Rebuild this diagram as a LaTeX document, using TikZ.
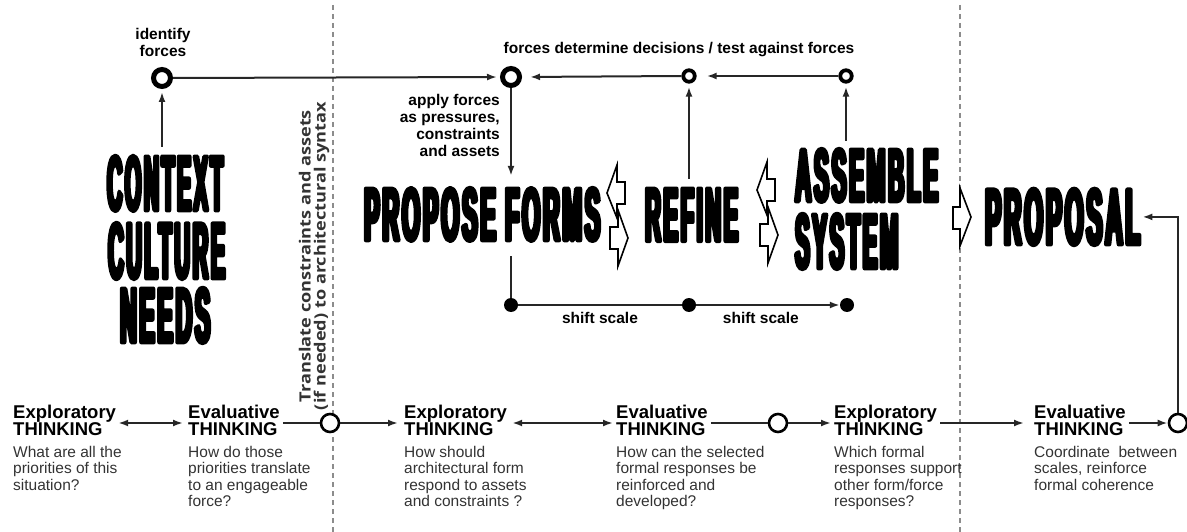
\documentclass[tikz,border=0pt]{standalone}
\usepackage{fontspec}
\setmainfont{Liberation Sans}
% heavy condensed headline face: narrowed, letter-spaced and stroked for weight
\newfontfamily\headfont[FakeStretch=0.36, FakeBold=6, LetterSpace=4.5]{Liberation Sans}
\newfontfamily\notefont{Open Sans}
\usetikzlibrary{arrows.meta}

% headline squeezed into a W x H box
\newcommand\headline[3]{\resizebox{#1pt}{#2pt}{\headfont\bfseries\fontsize{78}{78}\selectfont #3}}

\begin{document}
\begin{tikzpicture}[x=1pt,y=-1pt,
  big/.style={anchor=south west, inner sep=0pt, line join=round},
  lbl/.style={inner sep=0pt, font=\bfseries\fontsize{15.5}{17}\selectfont},
  title/.style={inner sep=0pt, anchor=base west, align=left, font=\bfseries\fontsize{18.5}{17}\selectfont},
  desc/.style={inner sep=0pt, anchor=base west, align=left, text=black!80, font=\fontsize{15.5}{16.5}\selectfont},
  ringbig/.style={circle, draw, line width=5pt, minimum size=17pt, inner sep=0pt, fill=white},
  ringsmall/.style={circle, draw, line width=3.8pt, minimum size=11.5pt, inner sep=0pt, fill=white},
  ring/.style={circle, draw, line width=2.6pt, minimum size=18pt, inner sep=0pt, fill=white},
  dot/.style={circle, fill, minimum size=14pt, inner sep=0pt},
  conn/.style={line width=2pt, draw=black!85},
  arr/.style={conn, -{Latex[length=10pt,width=7pt]}},
  dbl/.style={conn, {Latex[length=10pt,width=7pt]}-{Latex[length=10pt,width=7pt]}},
  sep/.style={draw=black!45, line width=1.3pt, dash pattern=on 5pt off 4pt},
  hollow/.style={draw, line width=1.6pt, fill=white, line join=miter},
  swap/.pic={
    \draw[hollow] (0,0) -- (10,-28) -- (10,-11) -- (18,-11) -- (18,11) -- (10,11) -- (10,25) -- cycle;
    \draw[hollow] (21,45) -- (11,17) -- (11,34) -- (3,34) -- (3,56) -- (11,56) -- (11,73) -- cycle;
  }]
\useasboundingbox (0,0) rectangle (1187,532);

% phase separators
\coordinate (sepAtop) at (333,5);  \coordinate (sepAbot) at (333,532);
\coordinate (sepBtop) at (960,5);  \coordinate (sepBbot) at (960,532);
\draw[sep] (sepAtop) -- (sepAbot);
\draw[sep] (sepBtop) -- (sepBbot);

% headlines
\node[big] (context)  at (107,211) {\headline{116}{54}{CONTEXT}};
\node[big] (culture)  at (108,279) {\headline{117}{55}{CULTURE}};
\node[big] (needs)    at (120,343) {\headline{90}{54}{NEEDS}};
\node[big] (propose)  at (364,241) {\headline{236}{52}{PROPOSE FORMS}};
\node[big] (refine)   at (645,241) {\headline{93}{52}{REFINE}};
\node[big] (assemble) at (795,202) {\headline{143}{52}{ASSEMBLE}};
\node[big] (system)   at (795,269) {\headline{103}{54}{SYSTEM}};
\node[big] (proposal) at (985,245) {\headline{155}{55}{PROPOSAL}};

% hollow transition arrows
\pic at (607,193) {swap};
\pic at (757,190) {swap};
\draw[hollow] (971,217) -- (960,188) -- (960,207) -- (953,207) -- (953,229) -- (960,229) -- (960,246) -- cycle;

% force loop
\node[ringbig]   (c1) at (162,78) {};
\node[ringbig]   (c2) at (511,77) {};
\node[ringsmall] (c3) at (689,76) {};
\node[ringsmall] (c4) at (846,76) {};
\node[lbl, align=center, anchor=south] (identify) at (163,57) {identify\\forces};
\node[lbl, anchor=base] (determine) at (679,54) {forces determine decisions / test against forces};
\node[lbl, align=right, anchor=south east] (apply) at (500,157) {apply forces\\as pressures,\\constraints\\and assets};

\draw[arr, shorten <=9pt, shorten >=3pt] (c1 |- context.north) -- (c1.south);
\draw[arr, shorten >=3pt] (c1.east) -- (c2.west);
\draw[arr, shorten >=8pt] (c3.west) -- (c2.east);
\draw[arr, shorten >=10pt] (c4.west) -- (c3.east);
\draw[arr, shorten >=12pt] (c2.south) -- (c2 |- propose.north);
\draw[arr, shorten <=10pt, shorten >=3pt] (c3 |- refine.north) -- (c3.south);
\draw[arr, shorten <=8pt, shorten >=3pt] (c4 |- assemble.north) -- (c4.south);

% scale shifts
\node[dot] (d1) at (511,305) {};
\node[dot] (d2) at (689,305) {};
\node[dot] (d3) at (847,305) {};
\draw[conn, shorten <=15pt] (c2 |- propose.south) -- (d1);
\draw[conn] (d1) -- node[lbl, below=6pt] (shift1) {shift scale} (d2);
\draw[arr] (d2) -- node[lbl, below=6pt, pos=0.45] (shift2) {shift scale} (d3);

% rotated note at the first separator
\node[rotate=90, inner sep=0pt, align=center, text=black!80,
      font=\notefont\bfseries\fontsize{15.5}{15}\selectfont] (translate) at (314,256)
  {\scalebox{1.17}[1]{Translate constraints and assets}\\\scalebox{1.17}[1]{(if needed) to architectural syntax}};

% thinking modes (anchored on the baseline of the last line)
\node[title] (ex1t) at (13,435)   {Exploratory\\THINKING};
\node[desc]  (ex1d) at (13,490)   {What are all the\\priorities of this\\situation?};
\node[title] (ev1t) at (188,435)  {Evaluative\\THINKING};
\node[desc]  (ev1d) at (188,506.5) {How do those\\priorities translate\\to an engageable\\force?};
\node[title] (ex2t) at (404,435)  {Exploratory\\THINKING};
\node[desc]  (ex2d) at (404,506.5) {How should\\architectural form\\respond to assets\\and constraints ?};
\node[title] (ev2t) at (616,435)  {Evaluative\\THINKING};
\node[desc]  (ev2d) at (616,506.5) {How can the selected\\formal responses be\\reinforced and\\developed?};
\node[title] (ex3t) at (834,435)  {Exploratory\\THINKING};
\node[desc]  (ex3d) at (834,506.5) {Which formal\\responses support\\other form/force\\responses?};
\node[title] (ev3t) at (1034,435) {Evaluative\\THINKING};
\node[desc]  (ev3d) at (1034,490) {Coordinate~ between\\scales, reinforce\\formal coherence};

\node[ring] (cA) at (330,423) {};
\node[ring] (cB) at (778,423) {};
\node[ring] (cC) at (1178,423) {};

\draw[dbl, shorten <=2pt, shorten >=5pt] (ex1t.east |- cA) -- (ev1t.west |- cA);
\draw[conn, shorten <=3pt] (ev1t.east |- cA) -- (cA.west);
\draw[arr, shorten >=6pt] (cA.east) -- (ex2t.west |- cA);
\draw[dbl, shorten <=5pt, shorten >=3pt] (ex2t.east |- cA) -- (ev2t.west |- cA);
\draw[conn, shorten <=3pt] (ev2t.east |- cB) -- (cB.west);
\draw[arr, shorten >=3pt] (cB.east) -- (ex3t.west |- cB);
\draw[arr, shorten <=3pt, shorten >=10pt] (ex3t.east |- cB) -- (ev3t.west |- cB);
\draw[arr, shorten <=3pt] (ev3t.east |- cC) -- (cC.west);
\draw[arr, shorten >=2pt] (cC.north) |- (proposal.east);
\end{tikzpicture}
\end{document}
